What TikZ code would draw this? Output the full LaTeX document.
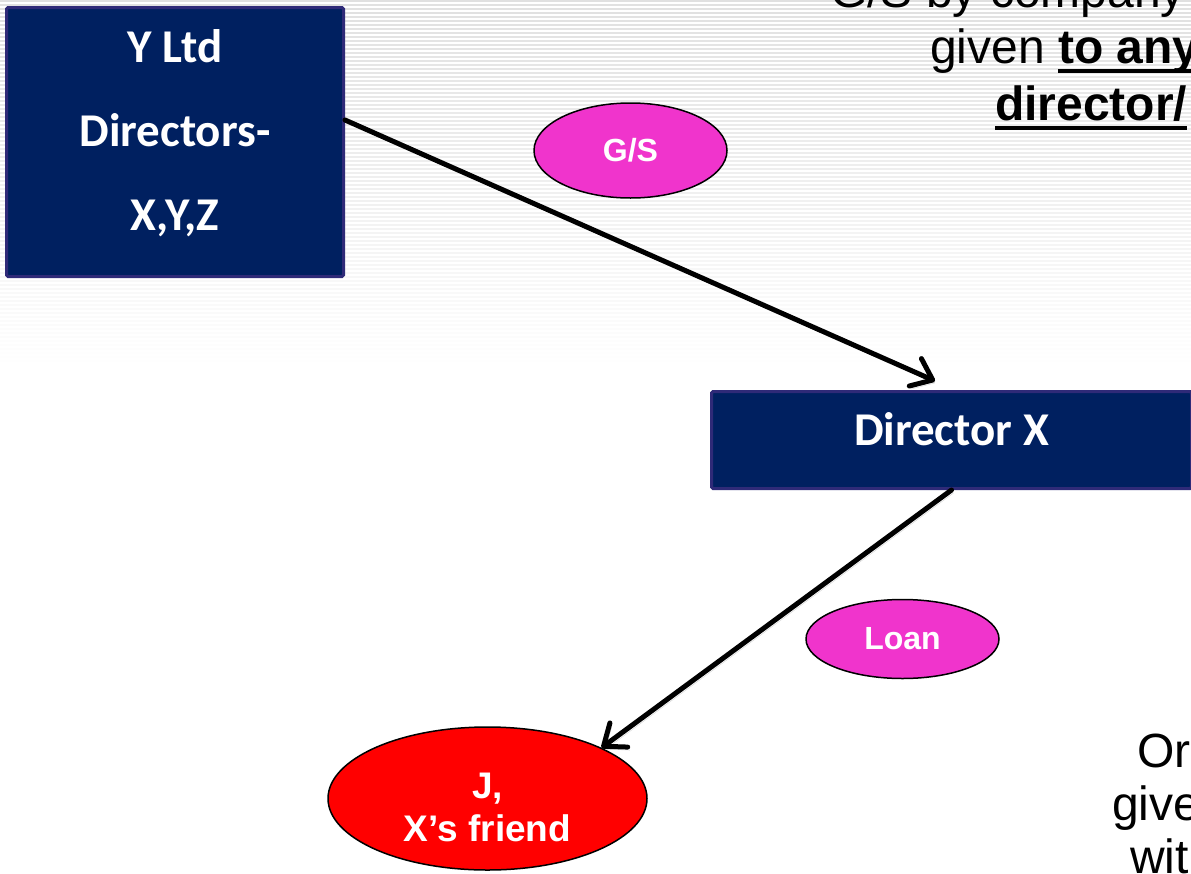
\documentclass[tikz,border=0pt]{standalone}
\usepackage{fontspec}
\setmainfont{Liberation Sans}
\newfontfamily\calibri{Carlito}
\usetikzlibrary{arrows.meta,shapes.geometric}
\definecolor{navyfill}{RGB}{0,32,96}
\definecolor{navyedge}{RGB}{47,42,120}
\definecolor{pinkfill}{RGB}{240,52,204}
\definecolor{redfill}{RGB}{255,0,0}
% bold text with a thick rule under it
\newsavebox\ulbox
\newcommand{\ulbf}[1]{\sbox\ulbox{\bfseries #1}\rlap{\rule[-10pt]{\wd\ulbox}{4.5pt}}\usebox\ulbox}

\begin{document}
\begin{tikzpicture}[x=1pt,y=-1pt,
  navybox/.style={draw=navyedge, line width=3pt, fill=navyfill, rounded corners=1.5pt, inner sep=0pt},
  boxtext/.style={text=white, font=\calibri\bfseries\fontsize{47}{84}\selectfont, inner sep=0pt, align=center},
  bubble/.style={ellipse, draw=black, line width=1.5pt, fill=pinkfill, inner sep=0pt, text=white,
                 font=\bfseries\fontsize{32}{38}\selectfont},
  link/.style={line width=5pt, line cap=round, -{Straight Barb[length=19pt,width=30pt,round]},
               preaction={draw=black!18, transform canvas={shift={(2pt,-3pt)}}}},
  note/.style={anchor=base west, inner sep=0pt, font=\fontsize{48}{55}\selectfont},
]
\useasboundingbox (0,0) rectangle (1191,873);
\clip (0,0) rectangle (1191,873);
\fill[white] (0,0) rectangle (1191,873);

% fading horizontal stripes across the upper part
\foreach \i in {0,...,92} {
  \pgfmathsetmacro\k{max(0,12*(1-\i/92))}
  \draw[black!\k, line width=1.5pt] (0,4*\i+1) -- (1191,4*\i+1);
}

% text running off the right edge
\node[note] (t1) at (830,7) {G/S by company};
\node[note] (t2) at (930,63) {given \ulbf{to any}};
\node[note] (t3) at (995,120) {\ulbf{director/}};
\node[note] (b1) at (1137,767) {Or};
\node[note] (b2) at (1112,820) {give};
\node[note] (b3) at (1130,873) {wit};

% boxes
\node[navybox, minimum width=337pt, minimum height=269pt] (yltd) at (175,142) {};
\node[boxtext] (yltdtext) at (175,133) {Y Ltd\\Directors-\\X,Y,Z};
\node[navybox, minimum width=480pt, minimum height=97pt, text=white,
      font=\calibri\bfseries\fontsize{47}{56}\selectfont, text height=30pt, text depth=20pt]
      (dirx) at (951.5,440) {Director X};

% ellipses
\node[bubble, minimum width=193pt, minimum height=95pt] (gs) at (630.5,150.5) {G/S};
\node[bubble, minimum width=193pt, minimum height=79pt] (loan) at (902.5,639) {Loan};
\node[bubble, fill=redfill, minimum width=319pt, minimum height=143pt] (jx) at (487.5,798.5) {};
\node[text=white, inner sep=0pt, align=center, font=\bfseries\fontsize{37}{43}\selectfont]
      (jtext) at (487.5,807) {J,\\X’s friend};

% connectors
\draw[link] ([yshift=22pt]yltd.east) -- ([xshift=-16.5pt,yshift=9pt]dirx.north);
\draw[link] (dirx.south) -- (jx.24);
\end{tikzpicture}
\end{document}
